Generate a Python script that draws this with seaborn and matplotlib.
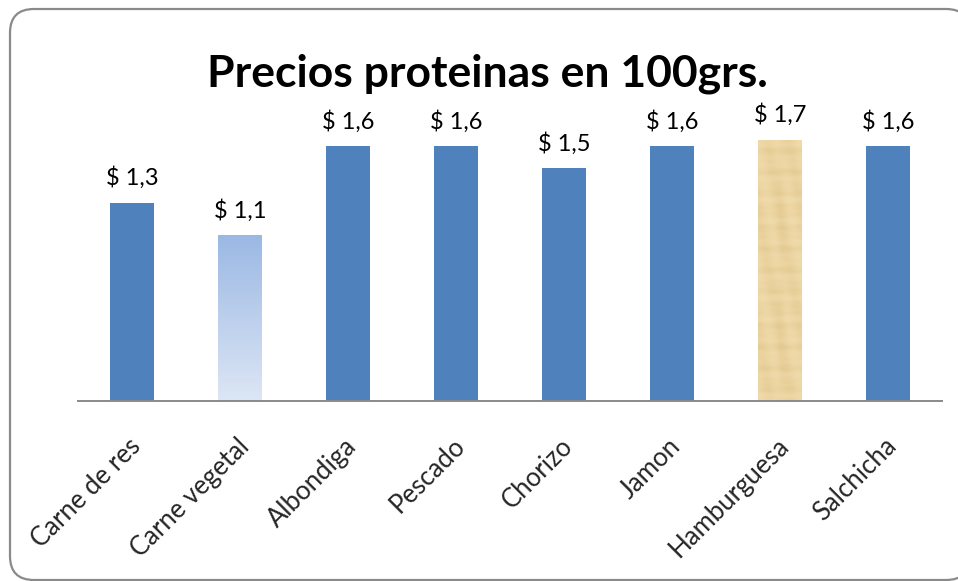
import numpy as np
import matplotlib
matplotlib.use("Agg")
import matplotlib.pyplot as plt
import matplotlib.transforms as mtransforms
import seaborn as sns
from matplotlib.patches import FancyBboxPatch
from matplotlib.colors import LinearSegmentedColormap

# Price per 100 g of each protein
categories = ["Carne de res", "Carne vegetal", "Albondiga", "Pescado",
              "Chorizo", "Jamon", "Hamburguesa", "Salchicha"]
prices = [1.27, 1.06, 1.63, 1.63, 1.49, 1.63, 1.67, 1.63]
title = "Precios proteinas en 100grs."

sns.set_theme(style="white")
plt.rcParams["font.family"] = ["Lato", "DejaVu Sans"]

W, H = 958, 581
fig = plt.figure(figsize=(W / 100, H / 100), dpi=100)

# rounded frame around the whole chart
frame = FancyBboxPatch((10 / W, 1 / H), 960 / W, 571 / H,
                       boxstyle="round,pad=0,rounding_size=0.025",
                       transform=fig.transFigure, facecolor="white",
                       edgecolor="#8a8a8a", linewidth=1.6, zorder=-5,
                       mutation_aspect=W / H)
fig.patches.append(frame)

ax = fig.add_axes([78 / W, (H - 400.7) / H, 864 / W, 280.8 / H])
ax.patch.set_alpha(0)

blue = "#4f81bd"
palette = [blue] * len(categories)
sns.barplot(x=categories, y=prices, hue=categories, palette=palette, legend=False,
            width=0.4, ax=ax, saturation=1, linewidth=0)

bars = list(ax.patches)

# gradient fill for "Carne vegetal"
grad_bar = bars[1]
grad_bar.set_facecolor("none")
cmap = LinearSegmentedColormap.from_list("veg", ["#dde6f5", "#9bb8e4"])
gx, gw = grad_bar.get_x(), grad_bar.get_width()
gh = grad_bar.get_height()
img = ax.imshow(np.linspace(0, 1, 256).reshape(-1, 1), cmap=cmap, aspect="auto",
                extent=(gx, gx + gw, 0, gh), origin="lower", zorder=2)
img.set_clip_path(grad_bar)

# papyrus-like fill for "Hamburguesa": soft fibres
tex_bar = bars[6]
tex_bar.set_facecolor("none")
yy, xx = np.mgrid[0:90, 0:16]
tex = (0.55 + 0.06 * np.sin(yy * 1.3) * np.sin(yy * 0.37 + 1.0)
       + 0.04 * np.cos(xx * 0.8 + yy * 0.15) + 0.03 * np.sin(yy * 3.1 + xx * 0.5)
       - 0.04 * np.exp(-((xx - 8) ** 2) / 2.0))
tcmap = LinearSegmentedColormap.from_list("pap", ["#dcc085", "#ecd5a2", "#f4e3b8"])
tx, tw, th = tex_bar.get_x(), tex_bar.get_width(), tex_bar.get_height()
timg = ax.imshow(tex, cmap=tcmap, aspect="auto", extent=(tx, tx + tw, 0, th),
                 origin="lower", zorder=2, interpolation="bicubic", vmin=0.35, vmax=0.75)
timg.set_clip_path(tex_bar)
ax.set_xlim(-0.5, len(categories) - 0.5)
ax.set_ylim(0, 1.8)

# value labels above each bar
labels = [f"$ {v:.1f}".replace(".", ",") for v in prices]
for bar, lab in zip(bars, labels):
    ax.annotate(lab, (bar.get_x() + bar.get_width() / 2, bar.get_height()),
                xytext=(0, 10), textcoords="offset points", ha="center",
                va="bottom", fontsize=17, color="#000000", annotation_clip=False)

# axes styling
for s in ["left", "right", "top"]:
    ax.spines[s].set_visible(False)
ax.spines["bottom"].set_color("#8a8a8a")
ax.spines["bottom"].set_linewidth(1.4)
ax.set_yticks([])
ax.tick_params(axis="x", length=0, pad=30)
ax.set_xticks(range(len(categories)))
ax.set_xticklabels(categories, rotation=45, ha="right", va="center",
                   rotation_mode="anchor", fontsize=18.5)
shift = mtransforms.ScaledTranslation(5 / 100, 0, fig.dpi_scale_trans)
for t in ax.get_xticklabels():
    t.set_transform(t.get_transform() + shift)

fig.text(487 / W, (H - 86) / H, title, ha="center", va="baseline",
         fontsize=32, fontweight="bold", color="#000000")

fig.savefig("out.png", dpi=100)
